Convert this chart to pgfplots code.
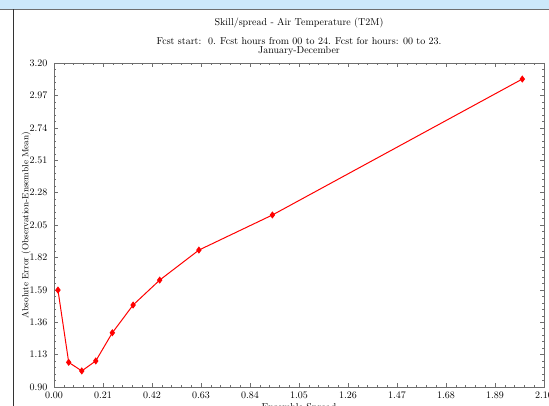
\documentclass[border=0pt]{standalone}
\usepackage{pgfplots}
\pgfplotsset{compat=1.18}
\definecolor{band}{RGB}{204,232,250}
\definecolor{axisgray}{RGB}{110,110,110}
\begin{document}
\begin{tikzpicture}[x=1pt,y=1pt]
\useasboundingbox (0,0) rectangle (549,406);
\fill[band] (0,397) rectangle (549,406);
\draw[axisgray, line width=0.8pt] (0,397) -- (549,397);
\draw[black!80, line width=0.8pt] (13,0) -- (13,397);
\node[font=\normalsize] at (299,383) {Skill/spread - Air Temperature (T2M)};
\node[font=\normalsize] at (299,365) {Fcst start:\ \ 0. Fcst hours from 00 to 24. Fcst for hours: 00 to 23.};
\node[font=\normalsize] at (299,355) {January-December};
\begin{axis}[
  at={(54pt,19pt)}, anchor=south west,
  width=490pt, height=324pt, scale only axis,
  xmin=0, xmax=2.1, ymin=0.9, ymax=3.2,
  xtick={0,0.21,0.42,0.63,0.84,1.05,1.26,1.47,1.68,1.89,2.1},
  ytick={0.90,1.13,1.36,1.59,1.82,2.05,2.28,2.51,2.74,2.97,3.20},
  minor tick num=4,
  tick align=inside,
  major tick length=4pt, minor tick length=2pt,
  axis line style={axisgray},
  every tick/.style={axisgray},
  xticklabel style={/pgf/number format/fixed, /pgf/number format/precision=2, /pgf/number format/fixed zerofill, yshift=-2pt},
  yticklabel style={/pgf/number format/fixed, /pgf/number format/precision=2, /pgf/number format/fixed zerofill, xshift=-3pt},
  xlabel={Ensemble Spread},
  xlabel style={at={(axis description cs:0.5,0)}, anchor=center, yshift=-21pt},
  ylabel={Absolute Error (Observation-Ensemble Mean)},
  ylabel style={at={(axis description cs:0,0.5)}, anchor=center, rotate=0, yshift=28pt, font=\small},
  every tick label/.append style={font=\normalsize},
]
\addplot[red, line width=1pt, mark=diamond*, mark size=2.8pt, mark options={fill=red, draw=red}] coordinates {
(0.017,1.588) (0.063,1.075) (0.119,1.014) (0.179,1.085) (0.250,1.285)
(0.339,1.482) (0.453,1.659) (0.621,1.872) (0.936,2.121) (2.007,3.086)
};
\end{axis}
\end{tikzpicture}
\end{document}
